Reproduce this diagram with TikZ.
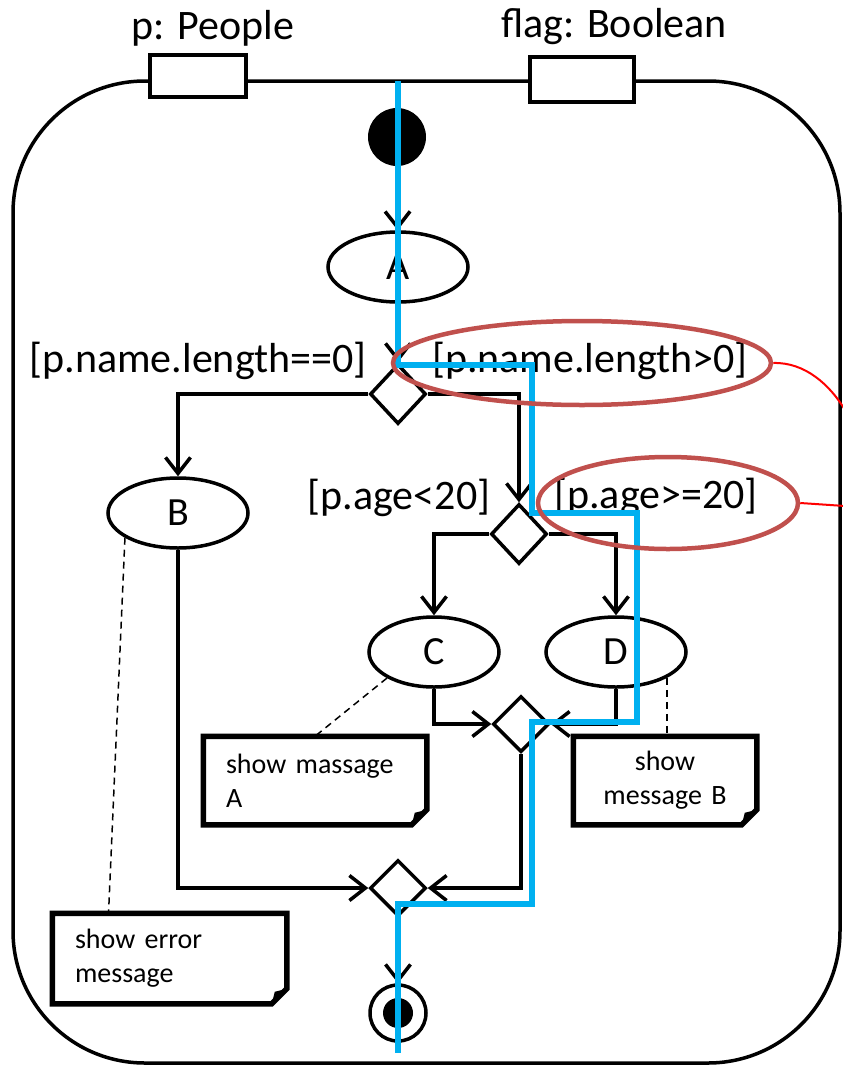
\documentclass[tikz,border=0pt]{standalone}
\usepackage{fontspec}
\setmainfont{Carlito}
\usetikzlibrary{shapes.geometric,arrows.meta,calc}
\definecolor{flowblue}{HTML}{00B0F0}
\definecolor{markred}{HTML}{C0504D}
\begin{document}
\begin{tikzpicture}[x=1pt,y=-1pt,line width=3.5pt,
  bigtxt/.style={font=\fontsize{42}{50}\selectfont},
  smalltxt/.style={font=\fontsize{28}{34}\selectfont},
  guard/.style={bigtxt, anchor=base, inner sep=0pt},
  act/.style={draw, ellipse, line width=3.5pt, inner sep=0pt, minimum width=140pt, minimum height=70pt, font=\fontsize{40}{48}\selectfont},
  dec/.style={draw, diamond, line width=3.5pt, inner sep=0pt, minimum width=56pt, minimum height=60pt},
  flow/.style={-{Straight Barb[length=16pt,width=25pt]}, line width=3.5pt},
  portbox/.style={draw, fill=white, rectangle, line width=4pt, inner sep=0pt},
  notebox/.style={smalltxt, inner xsep=21pt, inner ysep=0pt, minimum height=85pt},
  notebd/.style={line width=5.5pt, line join=miter},
  anchorline/.style={line width=1.5pt, dash pattern=on 7pt off 5pt},
  hilite/.style={draw=flowblue, line width=6.5pt},
  markell/.style={draw=markred, ellipse, line width=4.5pt, inner sep=0pt},
  markline/.style={draw=red, line width=2pt}
]
\useasboundingbox (0,0) rectangle (843,1066);

% frame
\draw[line width=3.5pt, rounded corners=132pt] (400,81) -- (13,81) -- (13,1063) -- (840,1063) -- (840,81) -- cycle;

% ports
\node[bigtxt, anchor=base] (pl) at (213,39) {p: People};
\node[portbox, minimum width=96pt, minimum height=42pt] (pp) at (198,76) {};
\node[bigtxt, anchor=base] (fl) at (614,37) {flag: Boolean};
\node[portbox, minimum width=104pt, minimum height=45pt] (fp) at (582,79.5) {};

% nodes
\node[circle, fill, inner sep=0pt, minimum size=58pt] (init) at (397,137) {};
\node[act] (A) at (398,267) {A};
\node[dec] (D1) at (398,394) {};
\node[act] (B) at (178,513) {B};
\node[dec] (D2) at (519,534) {};
\node[act, minimum width=130pt] (C) at (434,652) {C};
\node[act] (D) at (616,652) {D};
\node[dec, minimum height=56pt] (M1) at (521,724) {};
\node[dec, minimum height=56pt] (M2) at (398,888) {};
\node[circle, draw, line width=3.5pt, inner sep=0pt, minimum size=56pt] (fin) at (398,1013) {};
\fill (fin.center) circle (15pt);

% guards
\node[guard] (g1) at (198,372) {[p.name.length==0]};
\node[guard] (g2) at (590,372) {[p.name.length>0]};
\node[guard] (g3) at (399,509) {[p.age<20]};
\node[guard] (g4) at (656,508) {[p.age>=20]};

% notes
\node[notebox, text width=178pt, align=left] (nA) at (315,780.5) {show massage\\A};
\node[notebox, text width=138pt, align=center] (nB) at (665,780.5) {show\\message B};
\node[notebox, text width=189pt, minimum height=87pt, align=left] (nE) at (169.5,958.5) {show error\\message};
\foreach \n in {nA,nB,nE}{
  \draw[notebd] (\n.north west) -- (\n.north east) -- ([yshift=15pt]\n.south east) -- ([xshift=-15pt]\n.south east) -- (\n.south west) -- cycle;
  \fill ([yshift=15pt]\n.south east) -- ([xshift=-15pt]\n.south east) -- ([xshift=-12pt,yshift=12pt]\n.south east) -- cycle;
}

% flows
\draw[flow] (init) -- (A);
\draw[flow] (A) -- (D1);
\draw[flow] (D1.west) -| (B);
\draw[flow] (D1.east) -| (D2);
\draw[flow] (D2.west) -| (C);
\draw[flow] (D2.east) -| (D);
\draw[flow] (C) |- (M1.west);
\draw[flow] (D) |- (M1.east);
\draw[flow] (M1) |- (M2.east);
\draw[flow] (B) |- (M2.west);
\draw[flow] (M2) -- (fin);

% note anchors
\draw[anchorline] (B.-155) -- ($(nE.north west)!0.24!(nE.north east)$);
\draw[anchorline] (C.-151) -- (nA.north);
\draw[anchorline] (D.-27) -- (D.-27 |- nB.north);

% highlighted path
\draw[hilite] (398,81) -- (398,365) -- (532,365) -- (532,513) -- (637,513) -- (637,722) -- (532,722) -- (532,904) -- (398,904) -- (398,1053);

% red marks
\node[markell, minimum width=378pt, minimum height=84pt] (e1) at (582,363) {};
\node[markell, minimum width=260pt, minimum height=92pt] (e2) at (668,503) {};
\coordinate (r1) at (845,410);
\coordinate (r2) at (845,506);
\draw[markline] (e1.east) .. controls (805,362) and (830,385) .. (r1);
\draw[markline] (e2.east) -- (r2);
\end{tikzpicture}
\end{document}
